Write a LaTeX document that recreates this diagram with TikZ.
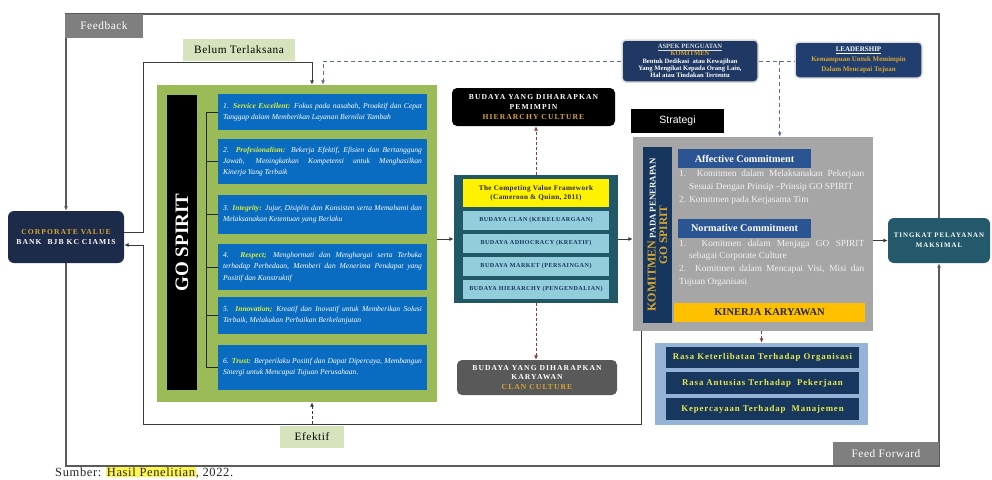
\documentclass[tikz,border=0pt]{standalone}
\usepackage{fontspec}
\setmainfont{Liberation Serif}
\setsansfont{Liberation Sans}
\newfontfamily\widefont[LetterSpace=5]{Liberation Serif}
\newfontfamily\navyfont[LetterSpace=10]{Liberation Serif}
\newfontfamily\capfont[LetterSpace=8]{Liberation Serif}
\newfontfamily\vwidefont[LetterSpace=14]{Liberation Serif}
\usetikzlibrary{arrows.meta,calc}
\definecolor{cvnavy}{HTML}{1C2B4A}
\definecolor{apnavy}{HTML}{1F3864}
\definecolor{ldnavy}{HTML}{203F70}
\definecolor{cvfteal}{HTML}{215868}
\definecolor{tingteal}{HTML}{23596B}
\definecolor{itemblue}{HTML}{0A6CC0}
\definecolor{gsgreen}{HTML}{9BBB59}
\definecolor{lgreen}{HTML}{D6E3BC}
\definecolor{lblue}{HTML}{92CDDC}
\definecolor{kbgray}{HTML}{A6A6A6}
\definecolor{kbnavy}{HTML}{17365D}
\definecolor{hdrblue}{HTML}{2B5592}
\definecolor{kinc}{HTML}{FFC000}
\definecolor{lbc}{HTML}{95B3D7}
\definecolor{itnavy}{HTML}{17375E}
\definecolor{gold}{HTML}{D9A62E}
\definecolor{lblc}{HTML}{D8EE3C}
\definecolor{ytxt}{HTML}{E6E84A}
\definecolor{labgray}{HTML}{7F7F7F}
\definecolor{cbgray}{HTML}{595959}
\definecolor{linec}{HTML}{3A3A3A}
\definecolor{framec}{HTML}{5A5A5A}
\definecolor{redd}{HTML}{8B3A3A}
\definecolor{blued}{HTML}{5B6F9A}
\definecolor{lsttxt}{HTML}{F2F2F2}
\newcommand{\lbl}[1]{{\color{lblc}\bfseries #1}}
\newcommand{\hg}{\hangindent=10pt\hangafter=1\relax}
\newcommand{\hgi}{\hangindent=7pt\hangafter=1\relax}
\tikzset{
  every node/.style={inner sep=0pt, align=center},
  tip/.style={-{Latex[length=4.5pt,width=4pt]}},
  ln/.style={draw=linec, line width=0.9pt},
  outerln/.style={draw=framec, line width=1.3pt},
  rdash/.style={draw=redd, line width=0.9pt, dash pattern=on 3pt off 2pt},
  bdash/.style={draw=blued, line width=0.9pt, dash pattern=on 4pt off 3pt},
  gdash/.style={draw=linec, line width=0.9pt, dash pattern=on 3pt off 2pt},
  graylab/.style={fill=labgray, text=white, font=\widefont\fontsize{11.3}{13}\selectfont},
  greenlab/.style={fill=lgreen, text=black, font=\widefont\fontsize{11.3}{13}\selectfont},
  darkbox/.style={rounded corners=6pt, text=white, font=\vwidefont\bfseries\fontsize{7.6}{9.6}\selectfont},
  itembox/.style={fill=itemblue, text=white, text width=199pt, minimum width=209pt, align=justify, font=\itshape\fontsize{7.55}{11.2}\selectfont},
  cvfbox/.style={fill=lblue, text=kbnavy, minimum width=146pt, minimum height=19pt, font=\capfont\bfseries\fontsize{6.1}{7}\selectfont},
  navyitem/.style={fill=itnavy, text=ytxt, minimum width=193pt, minimum height=21.5pt, font=\navyfont\bfseries\fontsize{8.8}{10}\selectfont},
  hdr/.style={fill=hdrblue, text=white, minimum width=133pt, minimum height=19pt, font=\bfseries\fontsize{10.2}{12}\selectfont},
  lsttext/.style={anchor=north west, text=lsttxt, text width=185pt, align=justify, font=\fontsize{9.3}{12.8}\selectfont},
}
\begin{document}
\begin{tikzpicture}[x=1pt,y=-1pt]
\useasboundingbox (0,0) rectangle (992,479);

% ---------- main nodes ----------
\node[darkbox, fill=cvnavy, minimum width=116pt, minimum height=52pt] (CV) at (66,237)
  {{\color{gold}CORPORATE VALUE}\\BANK\ \ BJB KC CIAMIS};
\node[darkbox, fill=tingteal, minimum width=102pt, minimum height=45pt,
      font=\vwidefont\bfseries\fontsize{6.9}{10}\selectfont] (TI) at (939,240.5)
  {TINGKAT PELAYANAN\\MAKSIMAL};

% GO SPIRIT block
\node[fill=gsgreen, minimum width=280pt, minimum height=317pt] (GS) at (297,243.5) {};
\node[fill=black, minimum width=295pt, minimum height=30pt, text=white,
      font=\bfseries\fontsize{19}{20}\selectfont, rotate=90] (GB) at (182,242.5) {GO SPIRIT};
\node[itembox, minimum height=36pt] (I1) at (322.5,112)
  {\hgi 1. \lbl{Service Excellent:} Fokus pada nasabah, Proaktif dan Cepat\linebreak Tanggap dalam Memberikan Layanan Bernilai Tambah};
\node[itembox, minimum height=45pt] (I2) at (322.5,161.5)
  {\hgi 2. \lbl{Profesionalism:} Bekerja Efektif, Efisien dan Bertanggung\linebreak Jawab, Meningkatkan Kompetensi untuk Menghasilkan\linebreak Kinerja Yang Terbaik};
\node[itembox, minimum height=39pt] (I3) at (322.5,214.5)
  {\hgi 3. \lbl{Integrity:} Jujur, Disiplin dan Konsisten serta Memahami dan\linebreak Melaksanakan Ketentuan yang Berlaku};
\node[itembox, minimum height=46pt] (I4) at (322.5,267)
  {\hgi 4. \lbl{Respect;} Menghormati dan Menghargai serta Terbuka\linebreak terhadap Perbedaan, Memberi dan Menerima Pendapat yang\linebreak Positif dan Konstruktif};
\node[itembox, minimum height=37pt] (I5) at (322.5,315.5)
  {\hgi 5. \lbl{Innovation;} Kreatif dan Inovatif untuk Memberikan Solusi\linebreak Terbaik, Melakukan Perbaikan Berkelanjutan};
\node[itembox, minimum height=45pt] (I6) at (322.5,367.5)
  {\hgi 6. \lbl{Trust:} Berperilaku Positif dan Dapat Dipercaya, Membangun\linebreak Sinergi untuk Mencapai Tujuan Perusahaan.};
\draw[draw=black!85, line width=0.8pt] ([xshift=-11pt]I1.west) -- ([xshift=-11pt]I6.west);
\foreach \i in {I1,I2,I3,I4,I5,I6}
  \draw[draw=black!85, line width=0.8pt] ([xshift=-11pt]\i.west) -- (\i.west);

% Competing values framework
\node[fill=cvfteal, minimum width=164pt, minimum height=128pt] (CVF) at (536,239) {};
\node[fill=yellow, minimum width=146pt, minimum height=28pt, text=black!85,
      font=\widefont\bfseries\fontsize{7.2}{9}\selectfont] (YF) at (536,193)
  {The Competing Value Framework\\(Cameroon \& Quinn, 2011)};
\node[cvfbox] (B1) at (536,220.5) {BUDAYA CLAN (KEKELUARGAAN)};
\node[cvfbox] (B2) at (536,243.5) {BUDAYA ADHOCRACY (KREATIF)};
\node[cvfbox] (B3) at (536,266.5) {BUDAYA MARKET (PERSAINGAN)};
\node[cvfbox] (B4) at (536,289.5) {BUDAYA HIERARCHY (PENGENDALIAN)};
\node[darkbox, rounded corners=5pt, fill=black, minimum width=163pt, minimum height=38pt] (HB) at (533.5,107)
  {BUDAYA YANG DIHARAPKAN\\PEMIMPIN\\{\color{gold}HIERARCHY CULTURE}};
\node[darkbox, rounded corners=5pt, fill=cbgray, minimum width=160pt, minimum height=35pt] (CB) at (537,377.5)
  {BUDAYA YANG DIHARAPKAN\\KARYAWAN\\{\color{gold}CLAN CULTURE}};

% top right boxes
\node[rounded corners=4pt, fill=apnavy, draw=black!15, line width=1.5pt, minimum width=136pt, minimum height=42pt,
      text=white, font=\bfseries\fontsize{6.6}{7.4}\selectfont] (AP) at (690,61)
  {{\color{black!15}\underline{ASPEK PENGUATAN}}\\{\color{gold}KOMITMEN}\\Bentuk Dedikasi\ \ atau Kewajiban\\Yang Mengikat Kepada Orang Lain,\\Hal atau Tindakan Tertentu};
\node[rounded corners=4pt, fill=ldnavy, draw=black!12, line width=1.5pt, minimum width=127pt, minimum height=36pt,
      text=white, font=\bfseries\fontsize{7}{9.8}\selectfont] (LD) at (858.5,60)
  {\underline{LEADERSHIP}\\{\color{gold}Kemampuan Untuk Memimpin}\\{\color{gold}Dalam Mencapai Tujuan}};
\node[fill=black, text=white, minimum width=93pt, minimum height=24pt,
      font=\sffamily\fontsize{10.5}{12}\selectfont] (ST) at (677.5,121) {Strategi};

% commitment block
\node[fill=kbgray, minimum width=240pt, minimum height=194pt] (KB) at (753,234) {};
\node[fill=kbnavy, minimum width=176pt, minimum height=29pt, rotate=90, text=gold,
      font=\bfseries\fontsize{11.5}{11.5}\selectfont] (KN) at (657.5,235)
  {{\fontsize{12}{11.5}\selectfont KOMITMEN} {\color{white}\fontsize{8.8}{11.5}\selectfont PADA PENERAPAN}\\GO SPIRIT};
\node[hdr] (AC) at (744.5,158.5) {Affective Commitment};
\node[lsttext] (AL) at (679,170)
  {\hg 1. Komitmen dalam Melaksanakan Pekerjaan\linebreak Sesuai Dengan Prinsip --Prinsip GO SPIRIT\par
   \hg 2. Komitmen pada Kerjasama Tim};
\node[hdr] (NC) at (744.5,228.5) {Normative Commitment};
\node[lsttext] (NL) at (679,239.5)
  {\hg 1. Komitmen dalam Menjaga GO SPIRIT\linebreak sebagai Corporate Culture\par
   \hg 2. Komitmen dalam Mencapai Visi, Misi dan\linebreak Tujuan Organisasi};
\node[fill=kinc, text=black!85, minimum width=191pt, minimum height=19pt,
      font=\bfseries\fontsize{10.5}{12}\selectfont] (KK) at (769.5,312.5) {KINERJA KARYAWAN};

% lower blue block
\node[fill=lbc, minimum width=213pt, minimum height=82pt] (LB) at (761.5,384) {};
\node[navyitem] (N1) at (762.5,357.5) {Rasa Keterlibatan Terhadap Organisasi};
\node[navyitem] (N2) at (762.5,383) {Rasa Antusias Terhadap\ \ Pekerjaan};
\node[navyitem] (N3) at (762.5,409) {Kepercayaan Terhadap\ \ Manajemen};

% ---------- connectors ----------
\coordinate (ftop) at (500,14);
\coordinate (fbot) at (500,466);
\coordinate (c1) at (143,62);
\coordinate (c2) at (143,424);
\coordinate (ef) at (312,424);
\coordinate (jn) at ([xshift=21pt]AP.east);

\draw[outerln,tip] (TI.north) |- (ftop) -| (CV.north);
\draw[outerln,tip] (CV.south) |- (fbot) -| (TI.south);
\draw[ln,tip] ([yshift=5pt]CV.east) -| (c1) -| ([xshift=15pt]GS.north);
\draw[ln,tip] ([xshift=9pt]KB.south west) |- (c2) |- ([yshift=-8pt]CV.east);
\draw[gdash,tip] (ef) -- (ef |- GS.south);
\draw[ln,tip] (GS.east |- CVF.west) -- (CVF.west);
\draw[ln,tip] (CVF.east) -- (CVF.east -| KB.west);
\draw[ln,tip] (KB.east |- TI.west) -- (TI.west);
\draw[rdash,tip] (CVF.north) -- (CVF.north |- HB.south);
\draw[rdash,tip] (CVF.south) -- (CVF.south |- CB.north);
\draw[rdash,tip] (LB.north |- KB.south) -- (LB.north);
\draw[bdash,tip] (AP.west) -| ([xshift=26pt]GS.north);
\draw[bdash] (AP.east) -- (AP.east -| LD.west);
\draw[bdash,tip] (jn) -- (jn |- KB.north);

% ---------- labels ----------
\node[graylab, minimum width=78pt, minimum height=24pt] (FB) at (104,26) {Feedback};
\node[graylab, minimum width=106pt, minimum height=23pt] (FF) at (886,453.5) {Feed Forward};
\node[greenlab, minimum width=112pt, minimum height=22pt] (BT) at (239,50) {Belum Terlaksana};
\node[greenlab, minimum width=64pt, minimum height=22pt] (EF) at (312,437) {Efektif};
\node[anchor=base west, font=\widefont\fontsize{12.5}{14}\selectfont, text=black!85] (SB) at (55,476)
  {Sumber: {\setlength{\fboxsep}{0.6pt}\colorbox{yellow!70}{Hasil Penelitian}}, 2022.};
\end{tikzpicture}
\end{document}
